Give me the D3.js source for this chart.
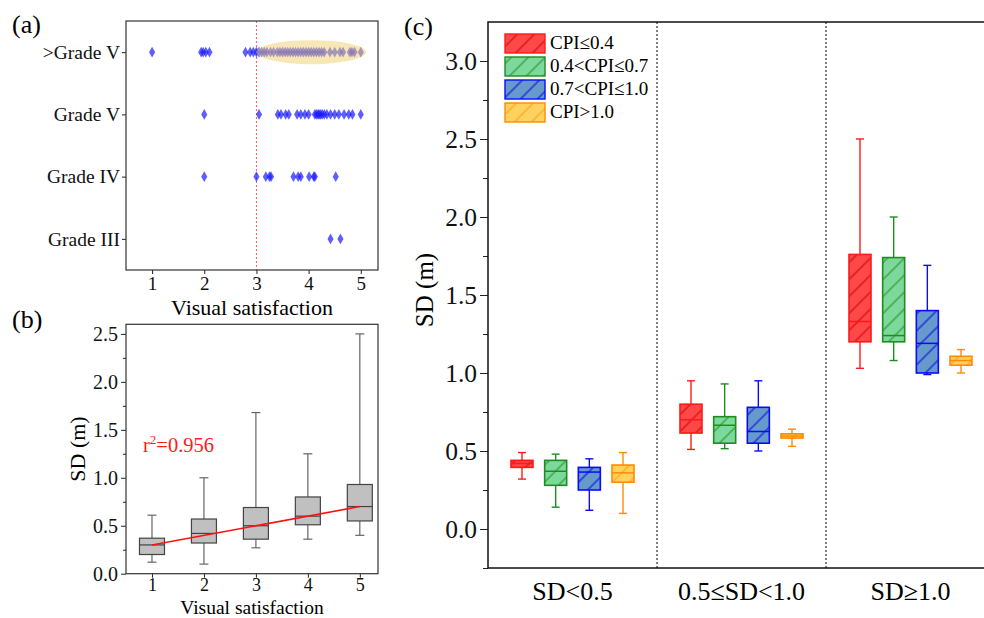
<!DOCTYPE html>
<html><head><meta charset="utf-8">
<script src="https://cdn.jsdelivr.net/npm/d3@7"></script>
<style>body{margin:0;background:#fff} svg text{font-family:"Liberation Serif","Times New Roman",serif;}</style>
</head><body><svg id="c" width="984" height="618"></svg>
<script>
// ---------- DATA ----------
const gradeCategories = [">Grade V", "Grade V", "Grade IV", "Grade III"];
const satisfactionTicks = [1, 2, 3, 4, 5];
const gradeAboveV = [1.0, 1.94, 1.98, 2.03, 2.10, 2.79, 2.88, 2.94, 3.0, 3.05, 3.1, 3.15, 3.2, 3.27, 3.33, 3.4, 3.45, 3.5,
  3.55, 3.6, 3.65, 3.7, 3.75, 3.8, 3.85, 3.9, 3.95, 4.0, 4.05, 4.1, 4.15, 4.2, 4.25, 4.3, 4.41, 4.5, 4.6, 4.66, 4.79, 4.83, 4.88, 5.0];
const gradeV = [2.0, 3.05, 3.41, 3.47, 3.56, 3.62, 3.78, 3.85, 3.93, 4.0, 4.12, 4.15, 4.18, 4.2, 4.23, 4.26, 4.3, 4.35,
  4.42, 4.5, 4.58, 4.68, 4.77, 4.84, 5.0];
const gradeIV = [2.0, 3.0, 3.18, 3.25, 3.28, 3.71, 3.80, 3.85, 4.01, 4.10, 4.12, 4.52];
const gradeIII = [4.42, 4.61];
const gradeRows = [gradeAboveV, gradeV, gradeIV, gradeIII];

// panel (b): SD by visual satisfaction
const satLevels = [1, 2, 3, 4, 5];
const sdMin = [0.12, 0.10, 0.27, 0.36, 0.40];
const sdQ1 = [0.20, 0.32, 0.36, 0.51, 0.55];
const sdMedian = [0.30, 0.42, 0.50, 0.60, 0.70];
const sdQ3 = [0.37, 0.57, 0.69, 0.80, 0.93];
const sdMax = [0.61, 1.00, 1.68, 1.25, 2.50];
const fitX = [1, 5];
const fitY = [0.30, 0.70];
const yTicksB = [0, 0.5, 1.0, 1.5, 2.0, 2.5];

// panel (c): [min, q1, median, q3, max] for each SD class
const sdClasses = ["SD<0.5", "0.5\u2264SD<1.0", "SD\u22651.0"];
const cpiClasses = ["CPI\u22640.4", "0.4<CPI\u22640.7", "0.7<CPI\u22641.0", "CPI>1.0"];
const cpiLe04 = [[0.32, 0.395, 0.42, 0.44, 0.49], [0.51, 0.615, 0.70, 0.80, 0.95], [1.03, 1.20, 1.33, 1.76, 2.50]];
const cpi04to07 = [[0.14, 0.28, 0.37, 0.44, 0.48], [0.515, 0.55, 0.665, 0.72, 0.93], [1.08, 1.20, 1.24, 1.74, 2.00]];
const cpi07to10 = [[0.12, 0.25, 0.365, 0.395, 0.45], [0.50, 0.55, 0.625, 0.78, 0.95], [0.99, 1.00, 1.19, 1.40, 1.69]];
const cpiGt10 = [[0.10, 0.30, 0.36, 0.41, 0.49], [0.53, 0.583, 0.596, 0.61, 0.64], [1.00, 1.05, 1.08, 1.107, 1.15]];
const cpiSeries = [cpiLe04, cpi04to07, cpi07to10, cpiGt10];
const yTicksC = [0, 0.5, 1.0, 1.5, 2.0, 2.5, 3.0];

// ---------- STYLE ----------
const cpiFill = ["#ff4848", "#7dd89c", "#6699cc", "#ffd260"];
const cpiStroke = ["#ff1a1a", "#1f8c1f", "#0a0aff", "#ff8c00"];
const cpiHatch = ["#cc0000", "#1f8c1f", "#0000e0", "#ff9a10"];

const svg = d3.select("#c");
const defs = svg.append("defs");
cpiClasses.forEach((c, i) => {
  const p = defs.append("pattern").attr("id", "h" + i).attr("patternUnits", "userSpaceOnUse")
    .attr("width", 12).attr("height", 12).attr("patternTransform", "rotate(45)");
  p.append("rect").attr("width", 12).attr("height", 12).attr("fill", cpiFill[i]);
  p.append("line").attr("x1", 6).attr("y1", 0).attr("x2", 6).attr("y2", 12)
    .attr("stroke", cpiHatch[i]).attr("stroke-width", 1.0);
});

function styleAxis(g, fs) {
  g.select(".domain").remove();
  g.selectAll(".tick line").attr("stroke", "#222");
  g.selectAll(".tick text").attr("font-size", fs).attr("fill", "#111")
    .style("font-family", '"Liberation Serif","Times New Roman",serif');
}

// ---------- PANEL (a) ----------
const ax = d3.scaleLinear().domain([0.5, 5.33]).range([126, 378]);
const ay = d3.scalePoint().domain(gradeCategories).range([21, 270]).padding(0.5);
const ga = svg.append("g");
ga.append("g").attr("transform", "translate(0,270)")
  .call(d3.axisBottom(ax).tickValues(satisfactionTicks).tickFormat(d3.format("d")).tickSize(4).tickPadding(3))
  .call(g => styleAxis(g, 19));
ga.append("g").attr("transform", "translate(126,0)")
  .call(d3.axisLeft(ay).tickSize(4).tickPadding(2))
  .call(g => styleAxis(g, 19.5));
ga.append("line").attr("x1", ax(3)).attr("x2", ax(3)).attr("y1", 21).attr("y2", 270)
  .attr("stroke", "#ff5a5a").attr("stroke-width", 1).attr("stroke-dasharray", "2,2");
const diamond = d3.symbol(d3.symbolDiamond, 32);
gradeRows.forEach((row, i) => {
  ga.append("g").selectAll("path").data(row).join("path")
    .attr("d", diamond)
    .attr("transform", d => `translate(${ax(d)},${ay(gradeCategories[i])})`)
    .attr("fill", "#1a1aff").attr("fill-opacity", 0.7);
});
ga.append("ellipse").attr("cx", ax(4.05)).attr("cy", ay(gradeCategories[0]))
  .attr("rx", (ax(5.1) - ax(3.0)) / 2).attr("ry", 12)
  .attr("fill", "#f2cf6e").attr("fill-opacity", 0.5);
ga.append("rect").attr("x", 126).attr("y", 21).attr("width", 252).attr("height", 249)
  .attr("fill", "none").attr("stroke", "#333").attr("stroke-width", 1.2);
ga.append("text").attr("x", (126 + 378) / 2).attr("y", 315).attr("text-anchor", "middle")
  .attr("font-size", 22).text("Visual satisfaction");
svg.append("text").attr("x", 12).attr("y", 33).attr("font-size", 26).text("(a)");

// ---------- PANEL (b) ----------
const bx = d3.scaleLinear().domain([0.5, 5.35]).range([126, 378]);
const by = d3.scaleLinear().domain([0, 2.6]).range([573.7, 324.3]);
const gb = svg.append("g");
gb.append("g").attr("transform", "translate(0,573.7)")
  .call(d3.axisBottom(bx).tickValues(satLevels).tickFormat(d3.format("d")).tickSize(4).tickPadding(1))
  .call(g => styleAxis(g, 18));
gb.append("g").attr("transform", "translate(126,0)")
  .call(d3.axisLeft(by).tickValues(yTicksB).tickFormat(d3.format(".1f")).tickSize(5).tickPadding(3))
  .call(g => styleAxis(g, 20));
gb.append("g").attr("transform", "translate(126,0)")
  .call(d3.axisLeft(by).tickValues([0.25, 0.75, 1.25, 1.75, 2.25]).tickFormat("").tickSize(3))
  .call(g => styleAxis(g, 20));
const bw = 25, cw = 9;
satLevels.forEach((s, i) => {
  const cx = bx(s);
  const g = gb.append("g");
  g.append("line").attr("x1", cx).attr("x2", cx).attr("y1", by(sdMax[i])).attr("y2", by(sdQ3[i])).attr("stroke", "#666").attr("stroke-width", 1.2);
  g.append("line").attr("x1", cx).attr("x2", cx).attr("y1", by(sdQ1[i])).attr("y2", by(sdMin[i])).attr("stroke", "#666").attr("stroke-width", 1.2);
  g.append("line").attr("x1", cx - cw / 2).attr("x2", cx + cw / 2).attr("y1", by(sdMax[i])).attr("y2", by(sdMax[i])).attr("stroke", "#666").attr("stroke-width", 1.2);
  g.append("line").attr("x1", cx - cw / 2).attr("x2", cx + cw / 2).attr("y1", by(sdMin[i])).attr("y2", by(sdMin[i])).attr("stroke", "#666").attr("stroke-width", 1.2);
  g.append("rect").attr("x", cx - bw / 2).attr("width", bw).attr("y", by(sdQ3[i])).attr("height", by(sdQ1[i]) - by(sdQ3[i]))
    .attr("fill", "#c0c0c0").attr("stroke", "#444").attr("stroke-width", 1.2);
  g.append("line").attr("x1", cx - bw / 2).attr("x2", cx + bw / 2).attr("y1", by(sdMedian[i])).attr("y2", by(sdMedian[i])).attr("stroke", "#444").attr("stroke-width", 1.2);
});
gb.append("line").attr("x1", bx(fitX[0])).attr("y1", by(fitY[0])).attr("x2", bx(fitX[1])).attr("y2", by(fitY[1]))
  .attr("stroke", "#ff1010").attr("stroke-width", 1.6);
const rt = gb.append("text").attr("x", 143).attr("y", 452).attr("font-size", 20.5).attr("fill", "#ff1a1a");
rt.append("tspan").text("r");
rt.append("tspan").attr("font-size", 13).attr("dy", -8).text("2");
rt.append("tspan").attr("dy", 8).text("=0.956");
gb.append("rect").attr("x", 126).attr("y", 324.3).attr("width", 252).attr("height", 249.4)
  .attr("fill", "none").attr("stroke", "#333").attr("stroke-width", 1.2);
gb.append("text").attr("x", (126 + 378) / 2).attr("y", 613.5).attr("text-anchor", "middle")
  .attr("font-size", 19.5).text("Visual satisfaction");
gb.append("text").attr("transform", `translate(85,${by(1.3)}) rotate(-90)`).attr("text-anchor", "middle")
  .attr("font-size", 22).text("SD (m)");
svg.append("text").attr("x", 12).attr("y", 328).attr("font-size", 26).text("(b)");

// ---------- PANEL (c) ----------
const cy = d3.scaleLinear().domain([-0.25, 3.25]).range([568, 22]);
const cx0 = d3.scaleBand().domain(sdClasses).range([488, 995]);
const cx1 = d3.scalePoint().domain(cpiClasses).range([-50.5, 50.5]);
const gc = svg.append("g");
gc.append("g").attr("transform", "translate(488,0)")
  .call(d3.axisLeft(cy).tickValues(yTicksC).tickFormat(d3.format(".1f")).tickSize(8).tickPadding(3))
  .call(g => styleAxis(g, 25.5));
gc.append("g").attr("transform", "translate(488,0)")
  .call(d3.axisLeft(cy).tickValues([-0.25, 0.25, 0.75, 1.25, 1.75, 2.25, 2.75]).tickFormat("").tickSize(5))
  .call(g => styleAxis(g, 25));
sdClasses.slice(1).forEach(s => {
  gc.append("line").attr("x1", cx0(s)).attr("x2", cx0(s)).attr("y1", 22).attr("y2", 568)
    .attr("stroke", "#555").attr("stroke-width", 1.5).attr("stroke-dasharray", "2,2");
});
const cbw = 22, ccw = 8;
cpiSeries.forEach((series, k) => {
  series.forEach((st, j) => {
    const x = cx0(sdClasses[j]) + cx0.bandwidth() / 2 + cx1(cpiClasses[k]);
    const [mn, q1, md, q3, mx] = st;
    const g = gc.append("g").attr("stroke", cpiStroke[k]).attr("stroke-width", 1.4);
    g.append("line").attr("x1", x).attr("x2", x).attr("y1", cy(mx)).attr("y2", cy(q3));
    g.append("line").attr("x1", x).attr("x2", x).attr("y1", cy(q1)).attr("y2", cy(mn));
    g.append("line").attr("x1", x - ccw / 2).attr("x2", x + ccw / 2).attr("y1", cy(mx)).attr("y2", cy(mx));
    g.append("line").attr("x1", x - ccw / 2).attr("x2", x + ccw / 2).attr("y1", cy(mn)).attr("y2", cy(mn));
    g.append("rect").attr("x", x - cbw / 2).attr("width", cbw).attr("y", cy(q3)).attr("height", cy(q1) - cy(q3))
      .attr("fill", `url(#h${k})`).attr("stroke-width", 1.6);
    g.append("line").attr("x1", x - cbw / 2).attr("x2", x + cbw / 2).attr("y1", cy(md)).attr("y2", cy(md)).attr("stroke-width", 1.5);
  });
});
gc.append("rect").attr("x", 488).attr("y", 22).attr("width", 520).attr("height", 546)
  .attr("fill", "none").attr("stroke", "#111").attr("stroke-width", 1.5);
sdClasses.forEach(s => {
  gc.append("text").attr("x", cx0(s) + cx0.bandwidth() / 2).attr("y", 600).attr("text-anchor", "middle")
    .attr("font-size", 26).text(s);
});
gc.append("text").attr("transform", `translate(433,290) rotate(-90)`).attr("text-anchor", "middle")
  .attr("font-size", 25).text("SD (m)");
svg.append("text").attr("x", 404).attr("y", 35).attr("font-size", 26).text("(c)");
// legend
const lg = gc.append("g");
cpiClasses.forEach((c, i) => {
  const y = 34 + i * 23;
  lg.append("rect").attr("x", 505).attr("y", y).attr("width", 40).attr("height", 19)
    .attr("fill", `url(#h${i})`).attr("stroke", cpiStroke[i]).attr("stroke-width", 1.4);
  lg.append("text").attr("x", 550).attr("y", y + 15).attr("font-size", 19).text(c);
});
</script></body></html>
